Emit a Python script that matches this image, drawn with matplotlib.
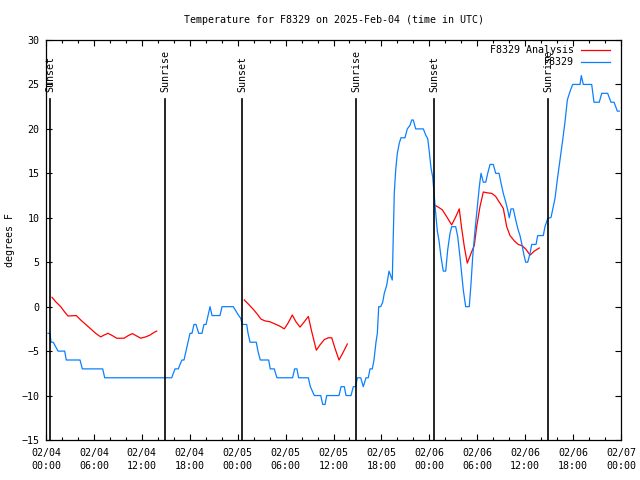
import matplotlib
matplotlib.use("Agg")
import matplotlib.pyplot as plt
import numpy as np

# time in hours since 02/04 00:00 UTC
obs_hours = [0.25, 0.50, 0.63, 0.91, 1.50, 2.34, 2.54, 4.26, 4.55, 7.10, 7.35, 15.74,
             16.15, 16.57, 16.78, 17.03, 17.28, 17.53, 17.78, 18.03, 18.28, 18.53, 18.78,
             19.12, 19.53, 19.78, 20.04, 20.29, 20.54, 20.79, 21.79, 22.04, 23.45, 23.79,
             24.13, 24.38, 24.58, 25.13, 25.30, 25.55, 26.33, 26.54, 26.83, 27.88, 28.08,
             28.58, 28.92, 30.88, 31.13, 31.42, 31.63, 32.85, 33.10, 33.60, 34.40, 34.65,
             34.94, 35.15, 36.69, 36.94, 37.35, 37.57, 38.19, 38.48, 38.78, 38.98, 39.41,
             39.73, 40.07, 40.36, 40.57, 40.86, 41.07, 41.32, 41.49, 41.66, 41.91, 42.16,
             42.36, 42.66, 42.95, 43.16, 43.36, 43.49, 43.61, 43.79, 43.99, 44.24, 44.45,
             44.95, 45.24, 45.58, 45.79, 45.99, 46.29, 47.25, 47.55, 47.80, 48.00, 48.21,
             48.42, 48.62, 48.80, 49.00, 49.20, 49.46, 49.75, 50.05, 50.30, 50.59, 50.80,
             51.30, 51.55, 51.84, 52.05, 52.25, 52.55, 53.00, 53.22, 53.43, 53.72, 54.01,
             54.26, 54.47, 54.76, 55.06, 55.31, 55.60, 56.01, 56.31, 56.73, 56.98, 57.26,
             57.56, 57.81, 58.01, 58.23, 58.52, 58.73, 59.07, 59.35, 59.57, 59.85, 60.07,
             60.32, 60.61, 60.82, 61.36, 61.57, 62.27, 62.48, 62.82, 63.24, 63.52, 63.74,
             64.02, 64.36, 64.70, 64.99, 65.28, 65.61, 65.95, 66.87, 67.03, 67.28, 68.33,
             68.62, 69.28, 69.58, 70.33, 70.75, 71.13, 71.54, 71.79]
obs_temps = [-3, -3, -4, -4, -5, -5, -6, -6, -7, -7, -8, -8,
             -7, -7, -6.5, -6, -6, -5, -4, -3, -3, -2, -2,
             -3, -3, -2, -2, -1, 0, -1, -1, 0, 0, -0.5,
             -1, -1.3, -2, -2, -3, -4, -4, -5, -6, -6, -7,
             -7, -8, -8, -7, -7, -8, -8, -9, -10, -10, -11,
             -11, -10, -10, -9, -9, -10, -10, -9, -9, -8, -8,
             -9, -8, -8, -7, -7, -6, -4, -3, 0, 0, 0.5,
             1.5, 2.4, 4, 3.5, 3, 8.25, 12.75, 15.4, 17.25, 18.4, 19,
             19, 20, 20.4, 21, 21, 20, 20, 19.3, 18.9, 17.4, 15.6,
             14.6, 12.4, 10.5, 8.5, 7.5, 5.6, 4, 4, 6.4, 8.25, 9,
             9, 7.9, 5.6, 3.75, 1.9, 0, 0, 2.6, 5.6, 8.6, 11.25,
             13.5, 15, 14, 14, 15, 16, 16, 15, 15, 13.9, 12.75,
             11.8, 10.9, 10, 11, 11, 10.1, 8.8, 8, 7.1, 5.8, 5,
             5, 6, 7, 7, 8, 8, 9, 9.9, 10.05, 11.25, 12.2,
             14.25, 16.5, 18.75, 20.8, 23.25, 24.2, 25, 25, 26, 25, 25,
             23, 23, 24, 24, 23, 23, 22, 22]

ana1_hours = [0.75, 1.21, 1.84, 2.34, 2.75, 3.79, 4.35, 4.97, 5.60, 6.22, 6.85, 7.26,
              7.76, 8.30, 8.85, 9.77, 10.31, 10.81, 11.36, 11.86, 12.48, 13.02, 13.52, 13.86]
ana1_temps = [1.05, 0.56, 0, -0.6, -1.05, -1, -1.5, -2, -2.5, -3, -3.4, -3.2,
              -3, -3.25, -3.55, -3.55, -3.25, -3.03, -3.3, -3.55, -3.4, -3.2, -2.9, -2.75]
ana2_hours = [24.83, 25.33, 25.96, 26.51, 26.92, 27.42, 28.05, 28.68, 29.30, 29.84, 30.34,
              30.84, 31.30, 31.81, 32.34, 32.85, 33.27, 33.85, 34.31, 34.85, 35.35, 35.78,
              36.19, 36.69, 37.23, 37.73]
ana2_temps = [0.75, 0.3, -0.3, -0.9, -1.4, -1.6, -1.7, -1.95, -2.2, -2.5, -1.8,
              -0.94, -1.7, -2.3, -1.7, -1.1, -2.8, -4.9, -4.3, -3.7, -3.5, -3.5,
              -4.7, -6, -5.1, -4.2]
ana3_hours = [48.71, 49.12, 49.62, 50.05, 50.46, 50.80, 51.30, 51.75, 52.05, 52.38, 52.75,
              53.22, 53.63, 53.93, 54.34, 54.76, 55.31, 55.81, 56.31, 56.73, 57.26, 57.69,
              58.10, 58.64, 59.14, 59.64, 60.10, 60.61, 61.14, 61.77]
ana3_temps = [11.4, 11.2, 10.9, 10.3, 9.7, 9.2, 10.1, 11, 8.8, 6.75, 4.9,
              6, 6.9, 9, 11.25, 12.9, 12.8, 12.75, 12.4, 11.8, 11.06, 9,
              8, 7.4, 7, 6.85, 6.45, 5.8, 6.25, 6.6]

sun_hours = [0.50, 14.94, 24.58, 38.82, 48.62, 62.90]
sun_labels = ["Sunset", "Sunrise", "Sunset", "Sunrise", "Sunset", "Sunrise"]

tick_hours = list(range(0, 73, 6))
tick_labels = ["02/04\n00:00", "02/04\n06:00", "02/04\n12:00", "02/04\n18:00",
               "02/05\n00:00", "02/05\n06:00", "02/05\n12:00", "02/05\n18:00",
               "02/06\n00:00", "02/06\n06:00", "02/06\n12:00", "02/06\n18:00",
               "02/07\n00:00"]

title = "Temperature for F8329 on 2025-Feb-04 (time in UTC)"

plt.rcParams['font.family'] = ['DejaVu Sans Mono']
FS = 7.2

fig = plt.figure(figsize=(6.4, 4.8), dpi=100)
ax = fig.add_axes([46/640, 40/480, 575/640, 400/480])

red = "#ff0000"
blue = "#0a80ff"

for hh, tt in [(ana1_hours, ana1_temps), (ana2_hours, ana2_temps), (ana3_hours, ana3_temps)]:
    ax.plot(hh, tt, color=red, lw=0.9)
ax.plot(obs_hours, obs_temps, color=blue, lw=0.9)

for h, lab in zip(sun_hours, sun_labels):
    ax.plot([h, h], [-15, 23.36], color="black", lw=1.2)
    ax.text(h, 24.1, lab, rotation=90, ha="center", va="bottom", fontsize=FS)

ax.set_xlim(0, 72)
ax.set_ylim(-15, 30)
ax.set_xticks(tick_hours)
ax.set_xticklabels(tick_labels, fontsize=FS, linespacing=1.4)
ax.set_xticks(list(range(0, 73, 2)), minor=True)
ax.set_yticks(list(range(-15, 31, 5)))
ax.tick_params(axis="both", which="major", direction="in", length=4.5, width=0.8,
               top=True, right=True, labelsize=FS)
ax.tick_params(axis="x", which="major", pad=5.5)
ax.tick_params(axis="y", which="major", pad=4.5)
ax.tick_params(axis="x", which="minor", direction="in", length=2.2, width=0.8,
               top=True, bottom=True)
for s in ax.spines.values():
    s.set_linewidth(0.9)

ax.set_ylabel("degrees F", fontsize=FS, labelpad=5)
ax.set_title(title, fontsize=FS, pad=12)

# legend (top right, text right-aligned, sample line after text)
leg_labels = ["F8329 Analysis", "F8329"]
leg_colors = [red, blue]
for i, (lab, col) in enumerate(zip(leg_labels, leg_colors)):
    y = 0.975 - i * 0.03
    ax.text(0.9183, y, lab, transform=ax.transAxes, ha="right", va="center", fontsize=FS)
    ax.plot([0.930, 0.981], [y, y], transform=ax.transAxes, color=col, lw=0.9)

fig.savefig("out.png", dpi=100)
